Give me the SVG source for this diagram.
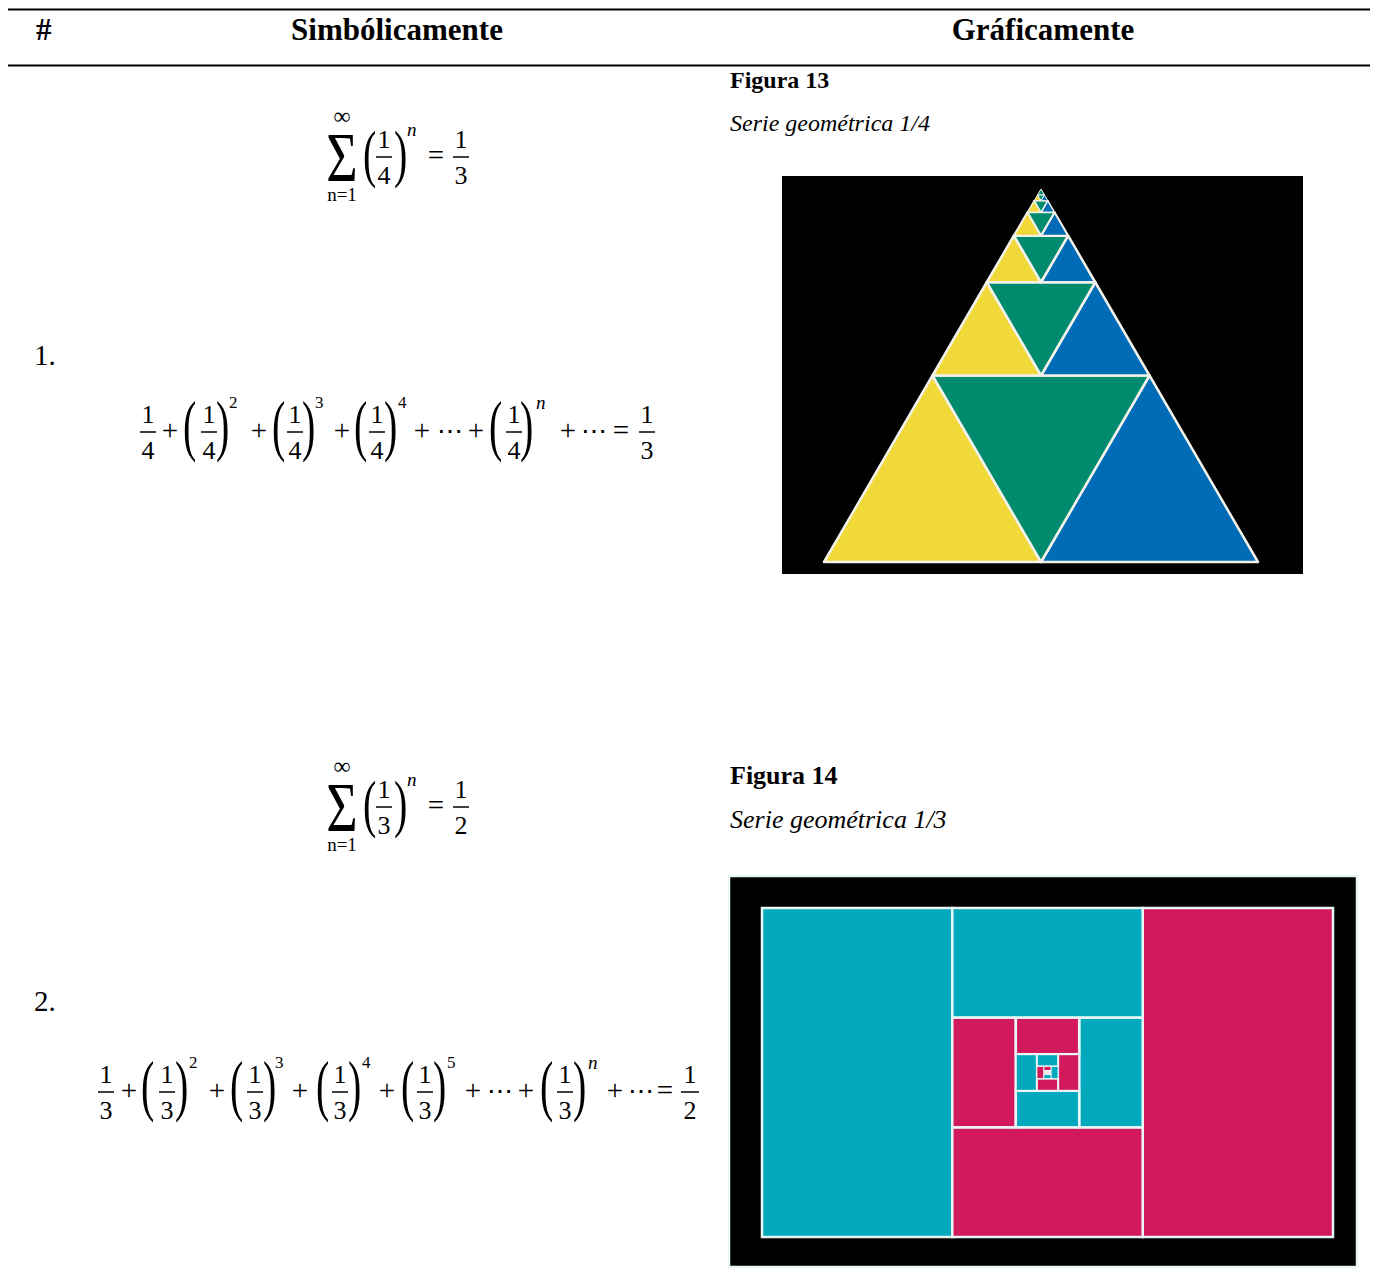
<svg xmlns="http://www.w3.org/2000/svg" width="1376" height="1273" viewBox="0 0 1376 1273">
<style>
.hd{font-family:"Liberation Serif",serif;font-weight:bold;font-size:31px;fill:#000}
.rn{font-family:"Liberation Serif",serif;font-size:29px;fill:#000}
.fb{font-family:"Liberation Serif",serif;font-weight:bold;fill:#000}
.fi{font-family:"Liberation Serif",serif;font-style:italic;fill:#000}
.mc{font-family:"Liberation Serif","DejaVu Serif",serif;font-size:26px;fill:#000;text-anchor:middle}
.inf{font-family:"Liberation Serif","DejaVu Serif",serif;font-size:24px;fill:#000;text-anchor:middle}
.op{font-family:"Liberation Serif","DejaVu Serif",serif;font-size:29px;fill:#000;text-anchor:middle}
.sig{font-family:"Liberation Serif","DejaVu Serif",serif;font-size:54px;fill:#000;text-anchor:middle}
.lim{font-family:"Liberation Serif","DejaVu Serif",serif;font-size:19px;fill:#000;text-anchor:middle}
.sup{font-family:"Liberation Serif","DejaVu Serif",serif;font-size:17px;fill:#000}
.supi{font-family:"Liberation Serif","DejaVu Serif",serif;font-size:19px;font-style:italic;fill:#000}
.par{font-family:"Liberation Serif","DejaVu Serif",serif;font-size:40px;fill:#000}
.bar{stroke:#000;stroke-width:1.5}
.tri polygon{stroke:#f2f2ea;stroke-width:2.5;stroke-linejoin:round}
.y{fill:#f2d93a}.g{fill:#008b6e}.b{fill:#006bb6}
.sq rect{stroke:#eaf6f6;stroke-width:2.5}
.c{fill:#02a9bd}.p{fill:#d1195c}
</style>
<defs>
<g id="frac4"><text class="mc" x="0" y="-9">1</text><line class="bar" x1="-8" y1="0" x2="8" y2="0"/><text class="mc" x="0" y="27">4</text></g>
<g id="frac3"><text class="mc" x="0" y="-9">1</text><line class="bar" x1="-8" y1="0" x2="8" y2="0"/><text class="mc" x="0" y="27">3</text></g>
</defs>

<g id="header">
<line x1="8" y1="9.5" x2="1370" y2="9.5" stroke="#000" stroke-width="2"/>
<line x1="8" y1="65.5" x2="1370" y2="65.5" stroke="#000" stroke-width="2"/>
<text class="hd" x="36" y="40">#</text>
<text class="hd" x="397" y="40" text-anchor="middle">Simbólicamente</text>
<text class="hd" x="1043" y="40" text-anchor="middle">Gráficamente</text>
</g>

<g id="row1-label"><text class="rn" x="34" y="365">1.</text></g>
<g id="row2-label"><text class="rn" x="34" y="1011">2.</text></g>

<g id="row1-sum">
<text class="inf" x="342" y="124">∞</text>
<text class="sig" transform="translate(342,181) scale(1,1.3)">Σ</text>
<text class="lim" x="342" y="201">n=1</text>
<text class="par" transform="translate(363,175) scale(1,1.6)">(</text>
<use href="#frac4" x="384" y="157"/>
<text class="par" transform="translate(394,175) scale(1,1.6)">)</text>
<text class="supi" x="407" y="136">n</text>
<text class="op" x="436" y="165">=</text>
<use href="#frac3" x="461" y="157"/>
</g>

<g id="row1-series">
<use href="#frac4" x="148" y="432"/>
<text class="op" x="170" y="440">+</text>
<text class="par" transform="translate(183,448) scale(1,1.7)">(</text>
<use href="#frac4" x="209" y="432"/>
<text class="par" transform="translate(216,448) scale(1,1.7)">)</text>
<text class="sup" x="229" y="408">2</text>
<text class="op" x="259" y="440">+</text>
<text class="par" transform="translate(272,448) scale(1,1.7)">(</text>
<use href="#frac4" x="295" y="432"/>
<text class="par" transform="translate(302,448) scale(1,1.7)">)</text>
<text class="sup" x="315" y="408">3</text>
<text class="op" x="342" y="440">+</text>
<text class="par" transform="translate(354,448) scale(1,1.7)">(</text>
<use href="#frac4" x="377" y="432"/>
<text class="par" transform="translate(384,448) scale(1,1.7)">)</text>
<text class="sup" x="398" y="408">4</text>
<text class="op" x="422" y="440">+</text>
<text class="mc" x="450" y="440">⋯</text>
<text class="op" x="476" y="440">+</text>
<text class="par" transform="translate(489,448) scale(1,1.7)">(</text>
<use href="#frac4" x="514" y="432"/>
<text class="par" transform="translate(520,448) scale(1,1.7)">)</text>
<text class="supi" x="536" y="409">n</text>
<text class="op" x="568" y="440">+</text>
<text class="mc" x="594" y="440">⋯</text>
<text class="op" x="621" y="440">=</text>
<use href="#frac3" x="647" y="432"/>
</g>

<g id="row2-sum">
<text class="inf" x="342" y="774">∞</text>
<text class="sig" transform="translate(342,831) scale(1,1.3)">Σ</text>
<text class="lim" x="342" y="851">n=1</text>
<text class="par" transform="translate(363,825) scale(1,1.6)">(</text>
<use href="#frac3" x="384" y="807"/>
<text class="par" transform="translate(394,825) scale(1,1.6)">)</text>
<text class="supi" x="407" y="786">n</text>
<text class="op" x="436" y="815">=</text>
<g transform="translate(461,807)"><text class="mc" x="0" y="-9">1</text><line class="bar" x1="-8" y1="0" x2="8" y2="0"/><text class="mc" x="0" y="27">2</text></g>
</g>

<g id="row2-series">
<use href="#frac3" x="106" y="1092"/>
<text class="op" x="129" y="1100">+</text>
<text class="par" transform="translate(141,1108) scale(1,1.7)">(</text>
<use href="#frac3" x="167" y="1092"/>
<text class="par" transform="translate(175,1108) scale(1,1.7)">)</text>
<text class="sup" x="189" y="1068">2</text>
<text class="op" x="217" y="1100">+</text>
<text class="par" transform="translate(230,1108) scale(1,1.7)">(</text>
<use href="#frac3" x="255" y="1092"/>
<text class="par" transform="translate(263,1108) scale(1,1.7)">)</text>
<text class="sup" x="275" y="1068">3</text>
<text class="op" x="300" y="1100">+</text>
<text class="par" transform="translate(316,1108) scale(1,1.7)">(</text>
<use href="#frac3" x="340" y="1092"/>
<text class="par" transform="translate(348,1108) scale(1,1.7)">)</text>
<text class="sup" x="362" y="1068">4</text>
<text class="op" x="387" y="1100">+</text>
<text class="par" transform="translate(401,1108) scale(1,1.7)">(</text>
<use href="#frac3" x="425" y="1092"/>
<text class="par" transform="translate(433,1108) scale(1,1.7)">)</text>
<text class="sup" x="447" y="1068">5</text>
<text class="op" x="473" y="1100">+</text>
<text class="mc" x="500" y="1100">⋯</text>
<text class="op" x="526" y="1100">+</text>
<text class="par" transform="translate(540,1108) scale(1,1.7)">(</text>
<use href="#frac3" x="565" y="1092"/>
<text class="par" transform="translate(573,1108) scale(1,1.7)">)</text>
<text class="supi" x="588" y="1069">n</text>
<text class="op" x="615" y="1100">+</text>
<text class="mc" x="641" y="1100">⋯</text>
<text class="op" x="665" y="1100">=</text>
<g transform="translate(690,1092)"><text class="mc" x="0" y="-9">1</text><line class="bar" x1="-9" y1="0" x2="9" y2="0"/><text class="mc" x="0" y="27">2</text></g>
</g>

<g id="figure13-caption">
<text class="fb" font-size="24" x="730" y="88">Figura 13</text>
<text class="fi" font-size="24" x="730" y="131">Serie geométrica 1/4</text>
</g>

<g id="figure13" class="tri">
<rect x="782" y="176" width="521" height="398" fill="#000" stroke="none"/>
<polygon class="y" points="824,562 932.5,375.5 1041,562"/>
<polygon class="b" points="1041,562 1149.5,375.5 1258,562"/>
<polygon class="g" points="932.5,375.5 1149.5,375.5 1041,562"/>
<polygon class="y" points="932.5,375.5 986.75,282.25 1041,375.5"/>
<polygon class="b" points="1041,375.5 1095.25,282.25 1149.5,375.5"/>
<polygon class="g" points="986.75,282.25 1095.25,282.25 1041,375.5"/>
<polygon class="y" points="986.75,282.25 1013.875,235.625 1041,282.25"/>
<polygon class="b" points="1041,282.25 1068.125,235.625 1095.25,282.25"/>
<polygon class="g" points="1013.875,235.625 1068.125,235.625 1041,282.25"/>
<polygon class="y" points="1013.875,235.625 1027.44,212.31 1041,235.625" style="stroke-width:2"/>
<polygon class="b" points="1041,235.625 1054.56,212.31 1068.125,235.625" style="stroke-width:2"/>
<polygon class="g" points="1027.44,212.31 1054.56,212.31 1041,235.625" style="stroke-width:2"/>
<polygon class="y" points="1027.44,212.31 1034.22,200.66 1041,212.31" style="stroke-width:1.5"/>
<polygon class="b" points="1041,212.31 1047.78,200.66 1054.56,212.31" style="stroke-width:1.5"/>
<polygon class="g" points="1034.22,200.66 1047.78,200.66 1041,212.31" style="stroke-width:1.5"/>
<polygon class="y" points="1034.22,200.66 1037.61,194.83 1041,200.66" style="stroke-width:1"/>
<polygon class="b" points="1041,200.66 1044.39,194.83 1047.78,200.66" style="stroke-width:1"/>
<polygon class="g" points="1037.61,194.83 1044.39,194.83 1041,200.66" style="stroke-width:1"/>
<polygon class="g" points="1041,189 1037.61,194.83 1044.39,194.83" style="stroke-width:1"/>
</g>

<g id="figure14-caption">
<text class="fb" font-size="26" x="730" y="784">Figura 14</text>
<text class="fi" font-size="26" x="730" y="828">Serie geométrica 1/3</text>
</g>

<g id="figure14" class="sq">
<rect x="729" y="876" width="628" height="391" fill="#000" stroke="none"/>
<rect class="c" x="762" y="908" width="190.3" height="329"/>
<rect class="p" x="1142.7" y="908" width="190.3" height="329"/>
<rect class="c" x="952.3" y="908" width="190.4" height="109.7"/>
<rect class="p" x="952.3" y="1127.3" width="190.4" height="109.7"/>
<rect class="p" x="952.3" y="1017.7" width="63.5" height="109.6"/>
<rect class="c" x="1079.2" y="1017.7" width="63.5" height="109.6"/>
<rect class="p" x="1015.8" y="1017.7" width="63.4" height="36.5"/>
<rect class="c" x="1015.8" y="1090.8" width="63.4" height="36.5"/>
<rect class="c" x="1015.8" y="1054.2" width="21.1" height="36.6" style="stroke-width:2"/>
<rect class="p" x="1058.1" y="1054.2" width="21.1" height="36.6" style="stroke-width:2"/>
<rect class="c" x="1036.9" y="1054.2" width="21.2" height="12.2" style="stroke-width:2"/>
<rect class="p" x="1036.9" y="1078.6" width="21.2" height="12.2" style="stroke-width:2"/>
<rect class="p" x="1036.9" y="1066.4" width="7" height="12.2" style="stroke-width:1"/>
<rect class="c" x="1051" y="1066.4" width="7.1" height="12.2" style="stroke-width:1"/>
<rect class="p" x="1043.9" y="1066.4" width="7.1" height="4.1" style="stroke-width:1"/>
<rect class="c" x="1043.9" y="1074.5" width="7.1" height="4.1" style="stroke-width:1"/>
<rect x="1043.9" y="1070.5" width="7.1" height="4" fill="#f0e6ea" style="stroke-width:0.5"/>
</g>
</svg>
